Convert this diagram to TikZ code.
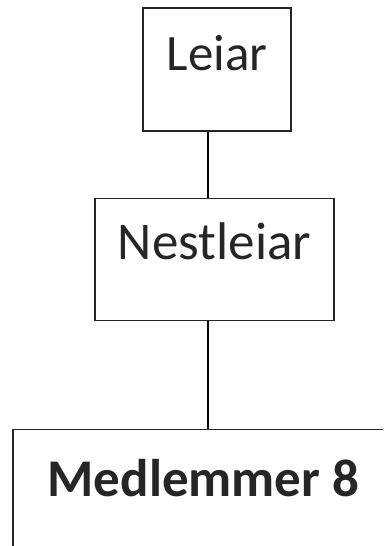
\documentclass[tikz,border=0pt]{standalone}
\usepackage{fontspec}
\setmainfont{Carlito}
\usetikzlibrary{positioning}

\begin{document}
\begin{tikzpicture}[x=1pt,y=1pt,node distance=66pt,line width=1.2pt,
  box/.style={draw=black!85,rectangle,inner sep=0pt,text=black!85,font=\fontsize{51}{51}\selectfont}]
\useasboundingbox (0,0) rectangle (383,-546);
\clip (0,0) rectangle (383,-546);
\node[box,minimum width=148pt,text height=62pt,text depth=61pt] (L) at (217,-69.5) {Leiar};
\node[box,minimum width=239pt,text height=61pt,text depth=61pt,font=\fontsize{53}{53}\selectfont] (N) [below=of L,xshift=-2.5pt] {Nestleiar};
\node[box,minimum width=381pt,text height=67pt,text depth=70pt,font=\bfseries\fontsize{53}{53}\selectfont] (M) [below=108pt of N,xshift=-11pt] {Medlemmer 8};

\draw ([xshift=-9pt]L.south) -- ([xshift=-9pt]L.south |- N.north);
\draw ([xshift=-6.5pt]N.south) -- ([xshift=-6.5pt]N.south |- M.north);
\end{tikzpicture}
\end{document}
